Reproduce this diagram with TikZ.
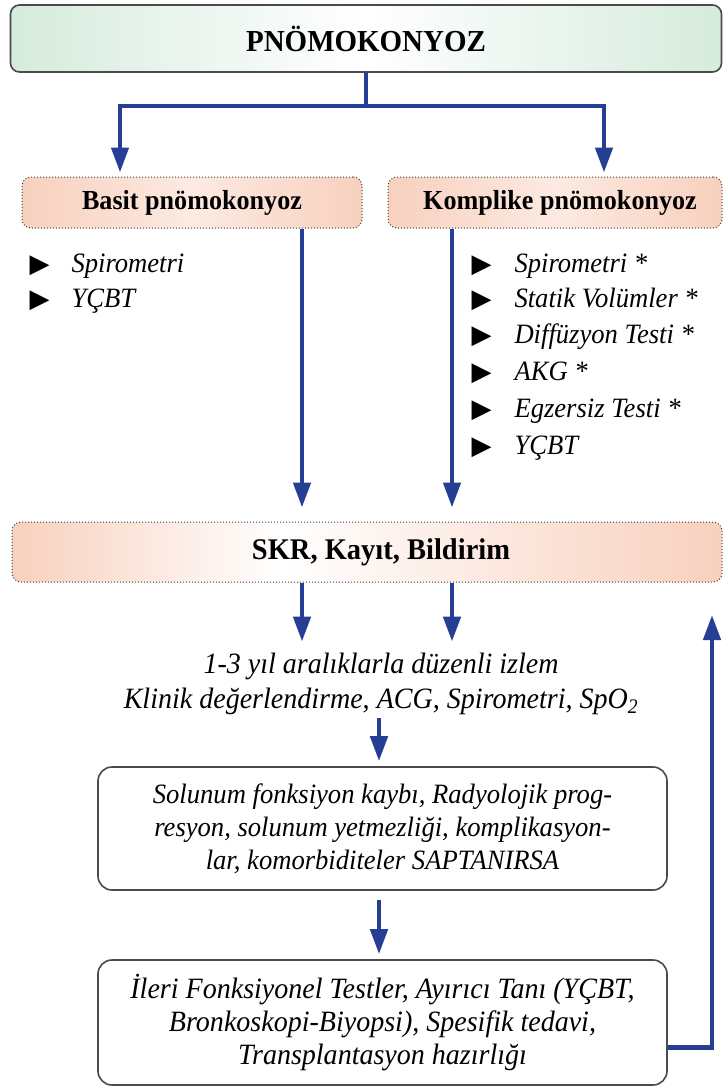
\documentclass[tikz,border=0pt]{standalone}
\usepackage{fontspec}
\setmainfont{Liberation Serif}[FakeStretch=0.95]
\newfontfamily\symfont{DejaVu Sans}
\usetikzlibrary{arrows.meta,positioning}
\definecolor{flowblue}{HTML}{263F94}
\definecolor{mint}{HTML}{D6EBDD}
\definecolor{salmon}{HTML}{F8D0BE}
\definecolor{framegray}{HTML}{4A4A4A}
% salmon band that fades to white a little left of its middle
\pgfdeclarehorizontalshading{reportshade}{100bp}{color(0bp)=(salmon); color(25bp)=(salmon);
  color(44bp)=(white); color(75bp)=(salmon); color(100bp)=(salmon)}
\tikzset{
  headbox/.style={draw=framegray, line width=1.6pt, rounded corners=9pt,
    left color=mint, right color=mint, middle color=white,
    font=\fontsize{30.5}{34}\selectfont\bfseries},
  typebox/.style={draw=black!75, dotted, line width=1pt, rounded corners=9pt,
    left color=salmon, right color=salmon, middle color=salmon!45,
    font=\fontsize{27.5}{30}\selectfont\bfseries},
  stagebox/.style={draw=framegray, line width=1.6pt, rounded corners=14pt,
    fill=white, align=center,
    font=\fontsize{28}{33}\selectfont\itshape},
  plaintext/.style={align=center, font=\fontsize{29.5}{35}\selectfont\itshape},
  item/.style={anchor=base west, font=\fontsize{28}{30}\selectfont\itshape},
  bullet/.style={anchor=base west, font=\symfont\fontsize{26}{28}\selectfont},
  flow/.style={draw=flowblue, line width=4.6pt, line join=miter,
    -{Triangle[width=17pt,length=25pt]}},
}
\begin{document}
\begin{tikzpicture}[x=1pt,y=-1pt]
\useasboundingbox (0,0) rectangle (723,1090);

% title
\node[headbox, minimum width=711pt, minimum height=67pt, inner sep=0pt]
  (top) at (366,38.5) {PNÖMOKONYOZ};

% two kinds
\node[typebox, minimum width=340pt, minimum height=51pt, inner sep=0pt]
  (basit) at (192,202.5) {Basit pnömokonyoz};
\node[typebox, minimum width=334pt, minimum height=51pt, inner sep=0pt]
  (komp) at (555,202.5) {\hspace*{10pt}Komplike pnömokonyoz};

% branching from the title
\coordinate (bl) at (120,106);
\coordinate (br) at (604,106);
\draw[flow, shorten >=4pt] (top.south) |- (bl) -- (bl |- basit.north);
\draw[flow, shorten >=4pt] (top.south) |- (br) -- (br |- komp.north);

% test lists
\node[bullet] (lb1) at (26,272) {▶};
\node[item]   (li1) at (68,272) {Spirometri};
\node[bullet] (lb2) at (26,307) {▶};
\node[item]   (li2) at (68,307) {YÇBT};

\node[bullet] (rb1) at (468,272) {▶};
\node[item]   (ri1) at (511,272) {Spirometri *};
\node[bullet] (rb2) at (468,307) {▶};
\node[item]   (ri2) at (511,307) {Statik Volümler *};
\node[bullet] (rb3) at (468,343) {▶};
\node[item]   (ri3) at (511,343) {Diffüzyon Testi *};
\node[bullet] (rb4) at (468,380) {▶};
\node[item]   (ri4) at (511,380) {AKG *};
\node[bullet] (rb5) at (468,417) {▶};
\node[item]   (ri5) at (511,417) {Egzersiz Testi *};
\node[bullet] (rb6) at (468,454) {▶};
\node[item]   (ri6) at (511,454) {YÇBT};

% reporting
\node[draw=black!75, dotted, line width=1pt, rounded corners=9pt,
  shading=reportshade, minimum width=710pt, minimum height=60pt, inner sep=0pt,
  font=\fontsize{30}{32}\selectfont\bfseries]
  (skr) at (367,552) {\hspace*{28pt}SKR, Kayıt, Bildirim};

\coordinate (cl) at (302,0);
\coordinate (cr) at (452,0);
\draw[flow, shorten >=14pt] (cl |- basit.south) -- (cl |- skr.north);
\draw[flow, shorten >=14pt] (cr |- komp.south) -- (cr |- skr.north);

% follow-up
\node[plaintext] (izlem) at (381,684)
  {1-3 yıl aralıklarla düzenli izlem\\
   Klinik değerlendirme, ACG, Spirometri, SpO\textsubscript{2}};
\draw[flow, shorten >=8pt] (cl |- skr.south) -- (cl |- izlem.north);
\draw[flow, shorten >=8pt] (cr |- skr.south) -- (cr |- izlem.north);

\node[stagebox, minimum width=569pt, minimum height=123pt, inner sep=0pt]
  (detect) at (382.5,828.5)
  {Solunum fonksiyon kaybı, Radyolojik prog-\\
   resyon, solunum yetmezliği, komplikasyon-\\
   lar, komorbiditeler SAPTANIRSA};
\coordinate (mid) at (379,0);
\draw[flow, shorten >=5pt] (mid |- izlem.south) -- (mid |- detect.north);

\node[stagebox, minimum width=569pt, minimum height=125pt, inner sep=0pt,
  font=\fontsize{29.5}{33}\selectfont\itshape]
  (adv) at (382.5,1022.5)
  {İleri Fonksiyonel Testler, Ayırıcı Tanı (YÇBT,\\
   Bronkoskopi-Biyopsi), Spesifik tedavi,\\
   Transplantasyon hazırlığı};
\draw[flow, shorten >=5pt, shorten <=9pt] (mid |- detect.south) -- (mid |- adv.north);

% return loop
\coordinate (ret) at (712,615);
\draw[flow] ([yshift=-25pt]adv.east) -| (ret);
\end{tikzpicture}
\end{document}
